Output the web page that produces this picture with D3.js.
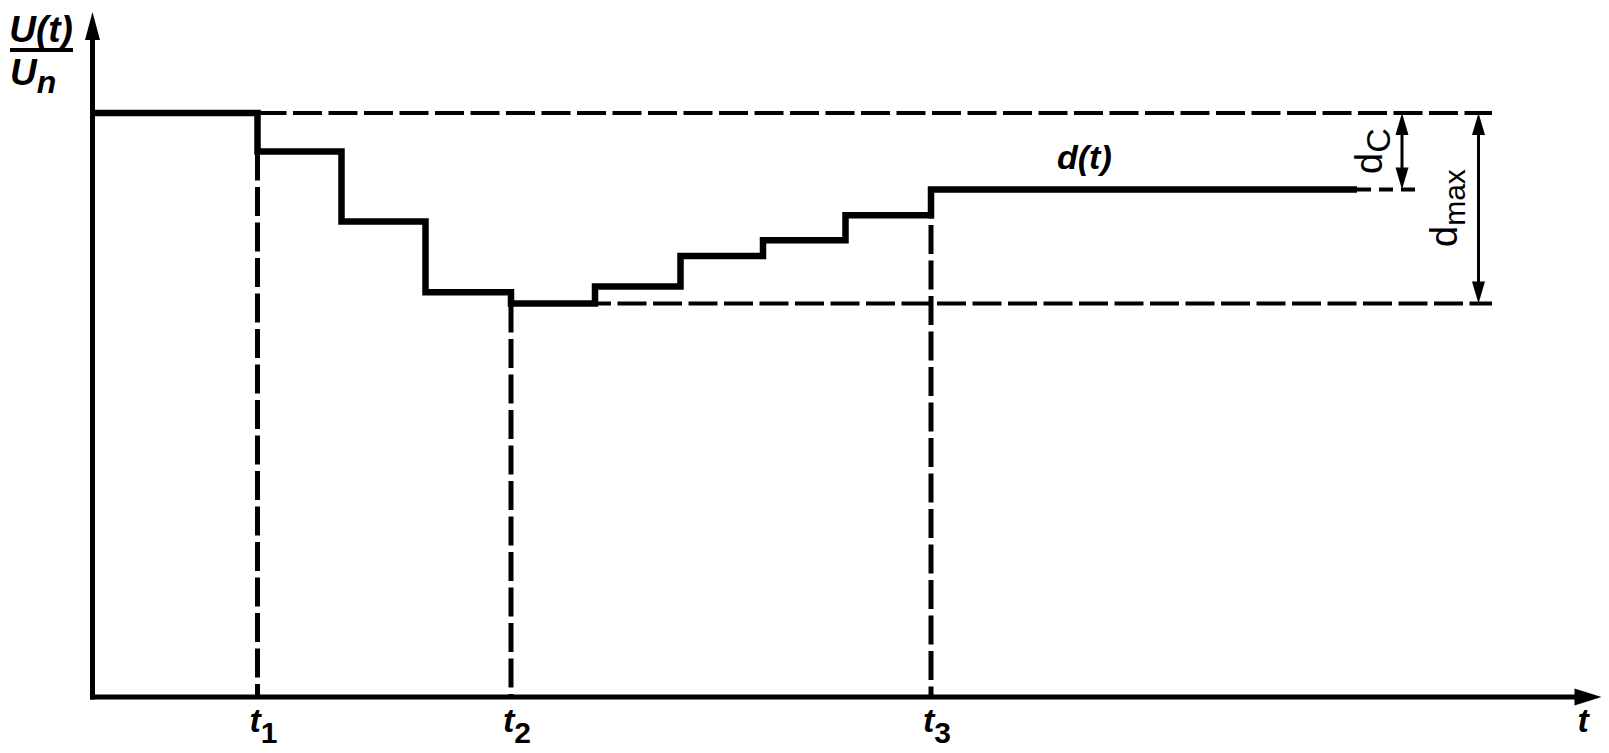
<!DOCTYPE html>
<html>
<head>
<meta charset="utf-8">
<script src="https://cdn.jsdelivr.net/npm/d3@7"></script>
<style>
  html, body { margin: 0; padding: 0; background: #fff; }
  svg { display: block; }
  text { font-family: "Liberation Sans", Arial, sans-serif; fill: #000; }
</style>
</head>
<body>
<svg id="chart" width="1609" height="753"></svg>
<script>
// ---- data (time in arbitrary units, voltage ratio U(t)/Un) ----
const stepTimes  = [0, 11, 16.6, 22.2, 27.9, 33.5, 39.2, 44.7, 50.2, 55.9, 84.3];
const stepValues = [1.0, 0.934, 0.814, 0.693, 0.674, 0.703, 0.755, 0.782, 0.825, 0.869, 0.869];
const markTimes  = [11, 27.9, 55.9];
const markLabels = ["1", "2", "3"];
const levelTop = 1.0;      // initial level
const levelMin = 0.674;    // minimum level (d_max)
const levelEnd = 0.869;    // final level (d_C)
const refLineEnd = 93.3;   // end of reference dashed lines
const dcDashEnd = 88.2;
const dcArrowT = 87.3;
const dmaxArrowT = 92.4;
const xAxisMax = 100.6;
const yAxisMax = 1.173;

const svg = d3.select("#chart");
const x = d3.scaleLinear().domain([0, 100]).range([92.5, 1592.5]);
const y = d3.scaleLinear().domain([0, 1]).range([697, 113]);

const dash = "29,6.5";

// dashed vertical markers
svg.selectAll("line.vmark").data(markTimes).enter().append("line")
  .attr("class", "vmark")
  .attr("x1", d => x(d)).attr("x2", d => x(d))
  .attr("y1", (d, i) => y([stepValues[1], levelMin, levelEnd][i]))
  .attr("y2", y(0))
  .attr("stroke", "#000").attr("stroke-width", 5).attr("stroke-dasharray", dash);

// dashed horizontal reference lines
svg.append("line").attr("x1", x(markTimes[0])).attr("x2", x(refLineEnd))
  .attr("y1", y(levelTop)).attr("y2", y(levelTop))
  .attr("stroke", "#000").attr("stroke-width", 4).attr("stroke-dasharray", dash);
svg.append("line").attr("x1", x(markTimes[1])).attr("x2", x(refLineEnd))
  .attr("y1", y(levelMin)).attr("y2", y(levelMin))
  .attr("stroke", "#000").attr("stroke-width", 4).attr("stroke-dasharray", dash);
svg.append("line").attr("x1", x(stepTimes[stepTimes.length - 1])).attr("x2", x(dcDashEnd))
  .attr("y1", y(levelEnd)).attr("y2", y(levelEnd))
  .attr("stroke", "#000").attr("stroke-width", 4).attr("stroke-dasharray", "14,8");

// step curve
const pts = stepTimes.map((t, i) => [t, stepValues[i]]);
svg.append("path").datum(pts)
  .attr("d", d3.line().x(d => x(d[0])).y(d => y(d[1])).curve(d3.curveStepAfter))
  .attr("fill", "none").attr("stroke", "#000").attr("stroke-width", 6.5)
  .attr("stroke-linejoin", "miter").attr("stroke-linecap", "butt");

// axes
svg.append("line").attr("x1", x(0)).attr("x2", x(0))
  .attr("y1", y(0) + 2.5).attr("y2", y(yAxisMax) + 20)
  .attr("stroke", "#000").attr("stroke-width", 5);
svg.append("line").attr("x1", x(0) - 2.5).attr("x2", x(xAxisMax) - 20)
  .attr("y1", y(0)).attr("y2", y(0))
  .attr("stroke", "#000").attr("stroke-width", 5);
// arrowheads
const ax0 = x(0), ay0 = y(0);
const yTip = y(yAxisMax), xTip = x(xAxisMax);
svg.append("path").attr("d", `M${ax0},${yTip} L${ax0 - 7.5},${yTip + 28} L${ax0 + 7.5},${yTip + 28} Z`).attr("fill", "#000");
svg.append("path").attr("d", `M${xTip},${ay0} L${xTip - 27},${ay0 - 8.5} L${xTip - 27},${ay0 + 8.5} Z`).attr("fill", "#000");

// dimension arrows
function dimArrow(t, v1, v2) {
  const ax = x(t), ya = y(v1), yb = y(v2);
  const L = 22, W = 6.5;
  svg.append("line").attr("x1", ax).attr("x2", ax).attr("y1", ya + 10).attr("y2", yb - 10)
    .attr("stroke", "#000").attr("stroke-width", 3);
  svg.append("path").attr("d", `M${ax},${ya} L${ax - W},${ya + L} L${ax + W},${ya + L} Z`).attr("fill", "#000");
  svg.append("path").attr("d", `M${ax},${yb} L${ax - W},${yb - L} L${ax + W},${yb - L} Z`).attr("fill", "#000");
}
dimArrow(dcArrowT, levelTop, levelEnd);
dimArrow(dmaxArrowT, levelTop, levelMin);

// tick labels t1, t2, t3
const tl = svg.selectAll("text.tlab").data(markTimes).enter().append("text")
  .attr("class", "tlab")
  .attr("x", d => x(d) - 8).attr("y", 732)
  .attr("font-size", 34).attr("font-style", "italic").attr("font-weight", "bold");
tl.append("tspan").text("t");
tl.append("tspan").attr("dy", 11).attr("font-size", 30).attr("font-style", "normal")
  .text((d, i) => markLabels[i]);

// axis label t
svg.append("text").attr("x", x(xAxisMax) - 24).attr("y", 732)
  .attr("font-size", 34).attr("font-style", "italic").attr("font-weight", "bold").text("t");

// y label: U(t) / U_n
svg.append("text").attr("x", 41).attr("y", 42).attr("text-anchor", "middle")
  .attr("font-size", 37).attr("font-style", "italic").attr("font-weight", "bold").text("U(t)");
svg.append("rect").attr("x", 10).attr("y", 48).attr("width", 63).attr("height", 4).attr("fill", "#000");
const un = svg.append("text").attr("x", 10).attr("y", 85)
  .attr("font-size", 37).attr("font-style", "italic").attr("font-weight", "bold");
un.append("tspan").text("U");
un.append("tspan").attr("dy", 8).attr("font-size", 32).text("n");

// d(t) label
svg.append("text").attr("x", 1057).attr("y", 169)
  .attr("font-size", 34).attr("font-style", "italic").attr("font-weight", "bold").text("d(t)");

// rotated labels
const dc = svg.append("text").attr("transform", `translate(${x(dcArrowT) - 20},${174}) rotate(-90)`)
  .attr("font-size", 38);
dc.append("tspan").text("d");
dc.append("tspan").attr("dy", 8).attr("font-size", 34).text("C");

const dm = svg.append("text").attr("transform", `translate(${x(dmaxArrowT) - 22},${247}) rotate(-90)`)
  .attr("font-size", 38);
dm.append("tspan").text("d");
dm.append("tspan").attr("dy", 8).attr("font-size", 30).text("max");
</script>
</body>
</html>
